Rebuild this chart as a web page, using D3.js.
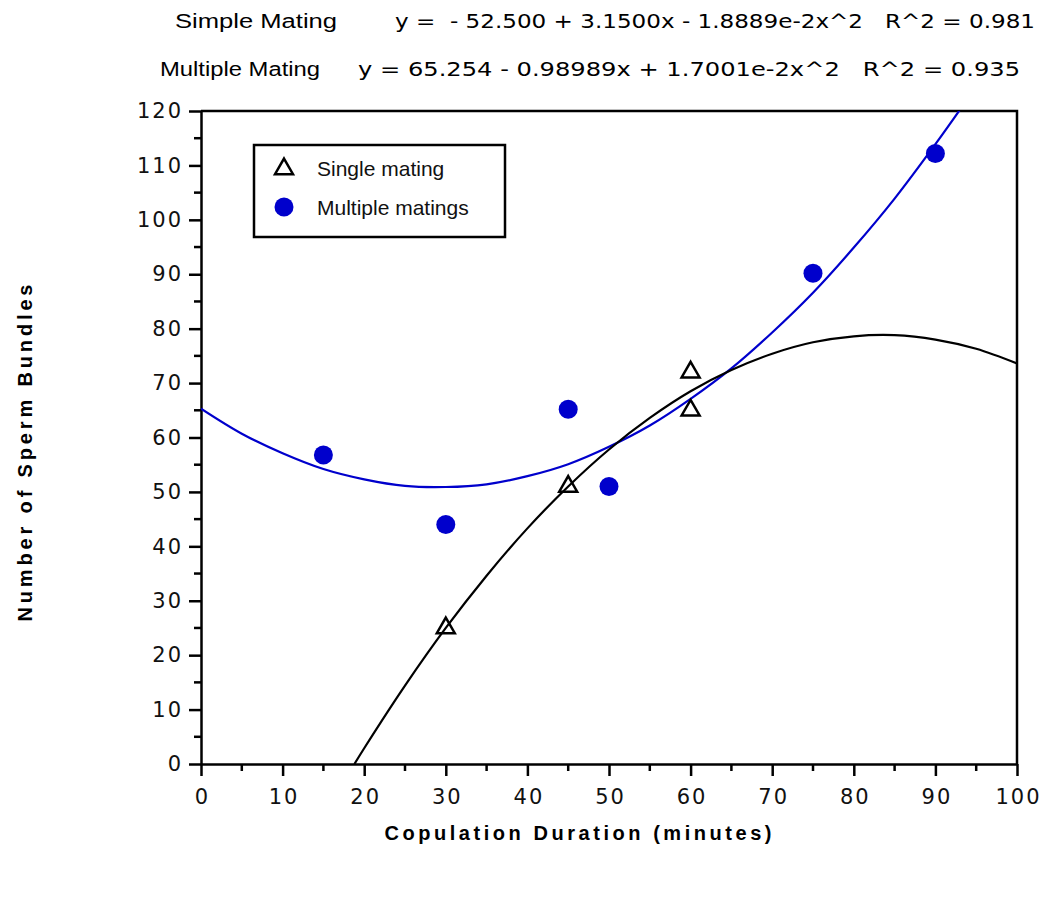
<!DOCTYPE html>
<html><head><meta charset="utf-8">
<script src="https://cdn.jsdelivr.net/npm/d3@7"></script>
<style>body{margin:0;background:#fff}svg{display:block}</style>
</head><body>
<svg id="c" width="1045" height="907"></svg>
<script>
// ---- data ----
const xTicks = [0,10,20,30,40,50,60,70,80,90,100];
const yTicks = [0,10,20,30,40,50,60,70,80,90,100,110,120];
const singleX = [30,45,60,60];
const singleY = [25,51,72,65];
const multiX = [15,30,45,50,75,90];
const multiY = [56.8,44,65.2,51,90.2,112.2];
const singleFitX = [18.8,20,25,30,35,40,45,50,55,60,65,70,75,80,85,90,95,100];
const singleFitY = [0,2.9,14.4,25.0,34.6,43.3,51.0,57.8,63.6,68.5,72.4,75.4,77.5,78.6,78.8,78.0,76.3,73.6];
const multiFitX = [0,5,10,15,20,25,30,35,40,45,50,55,60,65,70,75,80,85,90,95];
const multiFitY = [65.3,60.7,57.1,54.2,52.3,51.1,50.9,51.4,52.9,55.1,58.3,62.2,67.1,72.7,79.3,86.6,94.9,103.9,113.9,124.5];
const headerNames = ["Simple Mating","Multiple Mating"];
const headerEqs = ["y =  - 52.500 + 3.1500x - 1.8889e-2x^2   R^2 = 0.981",
                   "y = 65.254 - 0.98989x + 1.7001e-2x^2   R^2 = 0.935"];
const legendLabels = ["Single mating","Multiple matings"];
const xTitle = "Copulation Duration (minutes)";
const yTitle = "Number of Sperm Bundles";

// ---- layout ----
const svg = d3.select("#c");
const L=201, R=1017, T=111, B=764;
const x = d3.scaleLinear().domain([0,100]).range([L,R]);
const y = d3.scaleLinear().domain([0,120]).range([B,T]);
const blue = "#0000cc";

// header
const hdr = svg.append("g");
const nameX=[175,160], nameW=[162,160], eqX=[395,358], eqW=[640,662], hy=[28,76];
headerNames.forEach((t,i)=>{
  hdr.append("text").attr("x",nameX[i]).attr("y",hy[i]).text(t)
    .attr("font-family","Liberation Sans, Arial, sans-serif").attr("font-size",20)
    .attr("textLength",nameW[i]).attr("lengthAdjust","spacingAndGlyphs");
  hdr.append("text").attr("x",eqX[i]).attr("y",hy[i]).text(headerEqs[i])
    .attr("font-family","DejaVu Sans, sans-serif").attr("font-size",19)
    .attr("textLength",eqW[i]).attr("lengthAdjust","spacingAndGlyphs")
    .style("white-space","pre").attr("xml:space","preserve");
});

// clip
svg.append("clipPath").attr("id","plot").append("rect")
  .attr("x",L).attr("y",T).attr("width",R-L).attr("height",B-T);

// frame (top/right)
svg.append("path").attr("d",`M${L},${T}H${R}V${B}`).attr("fill","none")
  .attr("stroke","#000").attr("stroke-width",2.5);

// axes
const minorX = d3.range(5,100,10), minorY = d3.range(5,120,10);
const xa = svg.append("g").attr("transform",`translate(0,${B})`)
  .call(d3.axisBottom(x).tickValues(xTicks).tickSize(12).tickSizeOuter(0).tickPadding(13));
const ya = svg.append("g").attr("transform",`translate(${L},0)`)
  .call(d3.axisLeft(y).tickValues(yTicks).tickSize(12).tickSizeOuter(0).tickPadding(8));
[xa,ya].forEach(g=>{
  g.select(".domain").attr("stroke","#000").attr("stroke-width",2.5);
  g.selectAll(".tick line").attr("stroke","#000").attr("stroke-width",2.5);
  g.selectAll(".tick text").attr("fill","#111").attr("font-family","DejaVu Sans, sans-serif")
    .attr("font-size",21).attr("letter-spacing","2px");
});
ya.selectAll(".tick text").attr("dx","2px");
xa.selectAll(".tick text").attr("dx","1px");
svg.append("g").selectAll("line").data(minorX).join("line")
  .attr("x1",d=>x(d)).attr("x2",d=>x(d)).attr("y1",B).attr("y2",B+7)
  .attr("stroke","#000").attr("stroke-width",2.5);
svg.append("g").selectAll("line").data(minorY).join("line")
  .attr("y1",d=>y(d)).attr("y2",d=>y(d)).attr("x1",L-7).attr("x2",L)
  .attr("stroke","#000").attr("stroke-width",2.5);

// fit lines
const line = d3.line().x(d=>x(d[0])).y(d=>y(d[1])).curve(d3.curveCatmullRom);
const pg = svg.append("g").attr("clip-path","url(#plot)");
pg.append("path").datum(d3.zip(multiFitX,multiFitY)).attr("d",line)
  .attr("fill","none").attr("stroke",blue).attr("stroke-width",2.2);
pg.append("path").datum(d3.zip(singleFitX,singleFitY)).attr("d",line)
  .attr("fill","none").attr("stroke","#000").attr("stroke-width",2.2);

// markers
const tri = d3.symbol().type(d3.symbolTriangle).size(140);
svg.append("g").selectAll("path").data(d3.zip(singleX,singleY)).join("path")
  .attr("d",tri).attr("transform",d=>`translate(${x(d[0])},${y(d[1])})`)
  .attr("fill","none").attr("stroke","#000").attr("stroke-width",2.5);
svg.append("g").selectAll("circle").data(d3.zip(multiX,multiY)).join("circle")
  .attr("cx",d=>x(d[0])).attr("cy",d=>y(d[1])).attr("r",9.5).attr("fill",blue);

// legend
const lg = svg.append("g");
lg.append("rect").attr("x",254).attr("y",145).attr("width",251).attr("height",92)
  .attr("fill","#fff").attr("stroke","#000").attr("stroke-width",2.5);
lg.append("path").attr("d",tri).attr("transform","translate(284,169)")
  .attr("fill","none").attr("stroke","#000").attr("stroke-width",2.5);
lg.append("circle").attr("cx",284).attr("cy",207).attr("r",9.5).attr("fill",blue);
legendLabels.forEach((t,i)=>{
  lg.append("text").attr("x",317).attr("y",[176,215][i]).text(t)
    .attr("font-family","Liberation Sans, Arial, sans-serif").attr("font-size",21)
    .attr("fill","#111");
});

// titles
svg.append("text").attr("x",578).attr("y",840).attr("text-anchor","middle").text(xTitle)
  .attr("font-family","Liberation Sans, Arial, sans-serif").attr("font-weight","bold")
  .attr("font-size",20).attr("textLength",387).attr("lengthAdjust","spacing");
svg.append("text").attr("transform","translate(32,453) rotate(-90)").attr("text-anchor","middle")
  .text(yTitle).attr("font-family","Liberation Sans, Arial, sans-serif").attr("font-weight","bold")
  .attr("font-size",20).attr("textLength",337).attr("lengthAdjust","spacing");
</script>
</body></html>
